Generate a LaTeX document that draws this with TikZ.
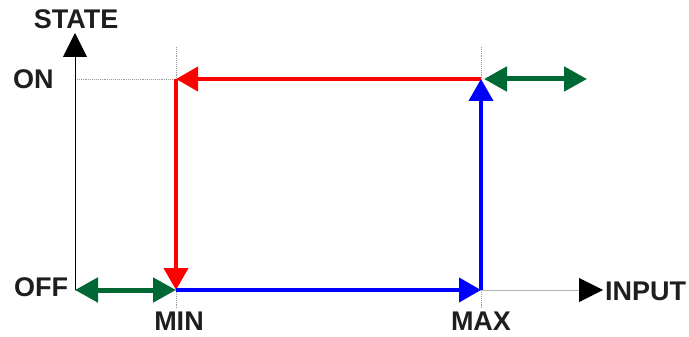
\documentclass[tikz,border=0pt]{standalone}
\usepackage{fontspec}
\setmainfont{Liberation Sans}
\usetikzlibrary{arrows.meta}
\definecolor{grn}{RGB}{0,104,52}
\definecolor{txt}{RGB}{30,30,30}
\begin{document}
\begin{tikzpicture}[x=1pt,y=-1pt,
  lbl/.style={inner sep=0pt,text=txt,font=\fontsize{27}{32}\selectfont\bfseries},
  guide/.style={gray!80,densely dotted,line width=0.9pt},
  tipA/.style={-{Triangle[length=22pt,width=24pt]}},
  redln/.style={red,line width=4pt,tipA},
  blueln/.style={blue,line width=4pt,tipA},
  grnln/.style={grn,line width=5pt,{Triangle[length=23pt,width=24pt]}-{Triangle[length=23pt,width=24pt]}},
  axis/.style={line width=1pt}]
\useasboundingbox (0,0) rectangle (689,337);
\coordinate (O) at (75,290);
\coordinate (ytip) at (75,33);
\coordinate (xtip) at (603,290);
\coordinate (minpt) at (176,290);
\coordinate (maxpt) at (481,290);
\coordinate (onmin) at (176,79);
\coordinate (onmax) at (481,79);
\coordinate (onax) at (75,79);
\coordinate (mintop) at (176,47);
\coordinate (minbot) at (176,308);
\coordinate (maxtop) at (481,47);
\coordinate (maxbot) at (481,308);
\coordinate (g1) at (484,79);
\coordinate (g2) at (587,79);
% guides
\draw[guide] (onax) -- (onmin);
\draw[guide] (mintop) -- (minbot);
\draw[guide] (maxtop) -- (maxbot);
% axes
\draw[axis,black,-{Triangle[length=24pt,width=24pt]}] (O) -- (ytip);
\draw[axis,gray!60,-{Triangle[length=24pt,width=24pt,color=black]}] (O) -- (xtip);
% labels
\node[lbl] (state) at (76,19) {STATE};
\node[lbl,anchor=west] (on) at (13,79) {ON};
\node[lbl,anchor=west] (off) at (14,287) {OFF};
\node[lbl,anchor=west] (input) at (605,291) {INPUT};
\node[lbl] (min) at (179,321) {MIN};
\node[lbl] (max) at (481,321) {MAX};
% paths
\draw[redln] (onmax) -- (onmin);
\draw[redln] (onmin) -- (minpt);
\draw[blueln] (minpt) -- (maxpt);
\draw[blueln] (maxpt) -- (onmax);
\draw[grnln] (O) -- (minpt);
\draw[grnln] (g1) -- (g2);
\end{tikzpicture}
\end{document}
